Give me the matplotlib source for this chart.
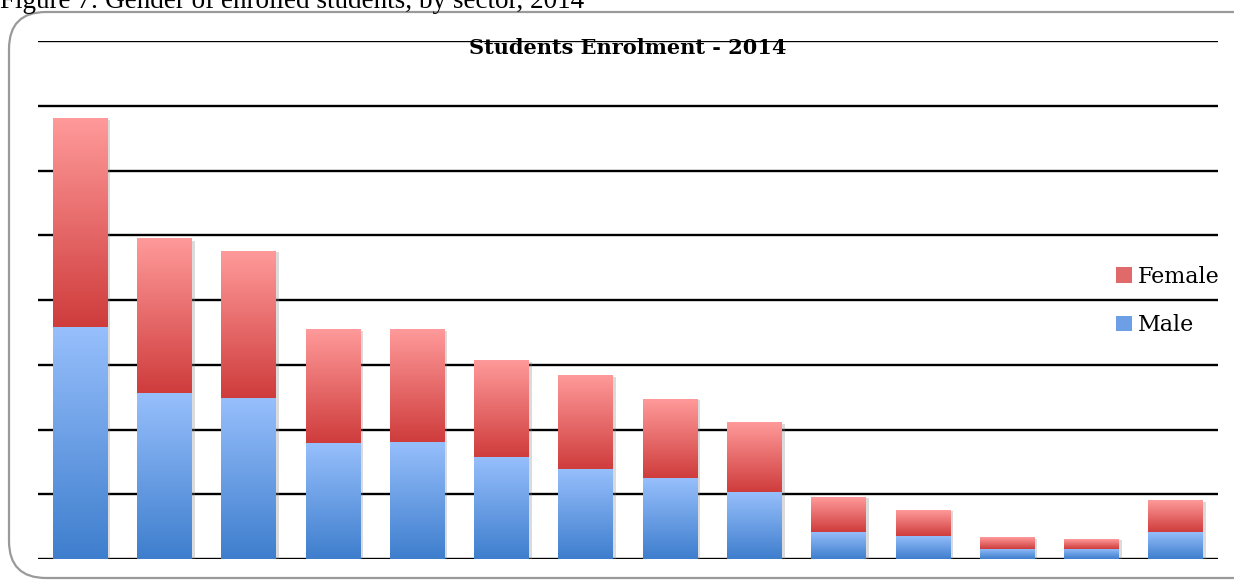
import numpy as np
import matplotlib
matplotlib.use("Agg")
import matplotlib.pyplot as plt
from matplotlib.colors import LinearSegmentedColormap
from matplotlib.patches import FancyBboxPatch, Patch
import matplotlib.patheffects as pe

# values (units = gridline steps, the original has no axis labels)
sectors = list(range(14))
male = [3.58, 2.56, 2.49, 1.79, 1.81, 1.58, 1.39, 1.25, 1.03, 0.42, 0.36, 0.16, 0.16, 0.42]
total = [6.80, 4.94, 4.76, 3.54, 3.55, 3.07, 2.83, 2.47, 2.10, 0.96, 0.76, 0.33, 0.31, 0.90]
female = [t - m for t, m in zip(total, male)]

W, H = 1234, 581
fig = plt.figure(figsize=(W / 100, H / 100), dpi=100)

# rounded frame around the chart
frame = FancyBboxPatch((9 / W, 3 / H), 1.2, (H - 15) / H,
                       boxstyle="round,pad=0,rounding_size=0.03",
                       transform=fig.transFigure, facecolor="none",
                       edgecolor="#9a9a9a", linewidth=1.6, mutation_aspect=W / H,
                       zorder=-1)
fig.patches.append(frame)

# caption, partly cut off at the top edge as in the original
fig.text(0, 1 - 8 / H, "Figure 7: Gender of enrolled students, by sector, 2014",
         family="Liberation Serif", fontsize=19.5, va="baseline", ha="left")

ax = fig.add_axes([38 / W, 1 - 559 / H, (1218 - 38) / W, (559 - 41) / H])
ax.patch.set_alpha(0)
for s in ax.spines.values():
    s.set_visible(False)
ax.set_xticks([])
ax.set_yticks([])
for y in range(9):
    ax.axhline(y, color="black", lw=1.7, zorder=1)

blue = LinearSegmentedColormap.from_list("b", ["#3e7ecd", "#97bffc"])
red = LinearSegmentedColormap.from_list("r", ["#cf3c3c", "#ff9a9a"])
grad = np.linspace(0, 1, 256).reshape(-1, 1)
shadow = [pe.SimplePatchShadow(offset=(2, -1), shadow_rgbFace="#888888", alpha=0.3), pe.Normal()]


def grad_bars(bottoms, heights, cmap):
    bars = ax.bar(sectors, heights, width=0.65, bottom=bottoms, color="none",
                  edgecolor="none", zorder=2)
    for b in bars:
        x0, y0 = b.get_x(), b.get_y()
        x1, y1 = x0 + b.get_width(), y0 + b.get_height()
        sh = plt.Rectangle((x0, y0), x1 - x0, y1 - y0, facecolor="white",
                           edgecolor="none", zorder=2, path_effects=shadow)
        ax.add_patch(sh)
        ax.imshow(grad, cmap=cmap, origin="lower", aspect="auto",
                  extent=(x0, x1, y0, y1), zorder=3, interpolation="bilinear")


grad_bars([0] * 14, male, blue)
grad_bars(male, female, red)
ax.set_xlim(-0.5, 13.5)
ax.set_ylim(0, 8)

ax.text(0.5, (559 - 48) / 518, "Students Enrolment - 2014", transform=ax.transAxes,
        ha="center", va="center", family="DejaVu Serif", fontweight="bold", fontsize=15)

handles = [Patch(facecolor="#e06a6a", edgecolor="none", label="Female"),
           Patch(facecolor="#6d9fe6", edgecolor="none", label="Male")]
fig.legend(handles=handles, loc="center left", bbox_to_anchor=(1116 / W, 1 - 301 / H),
           frameon=False, prop={"family": "DejaVu Serif", "size": 16},
           handlelength=0.7, handleheight=0.7, handletextpad=0.3, labelspacing=1.2,
           borderaxespad=0, borderpad=0)

fig.savefig("out.png", dpi=100)
